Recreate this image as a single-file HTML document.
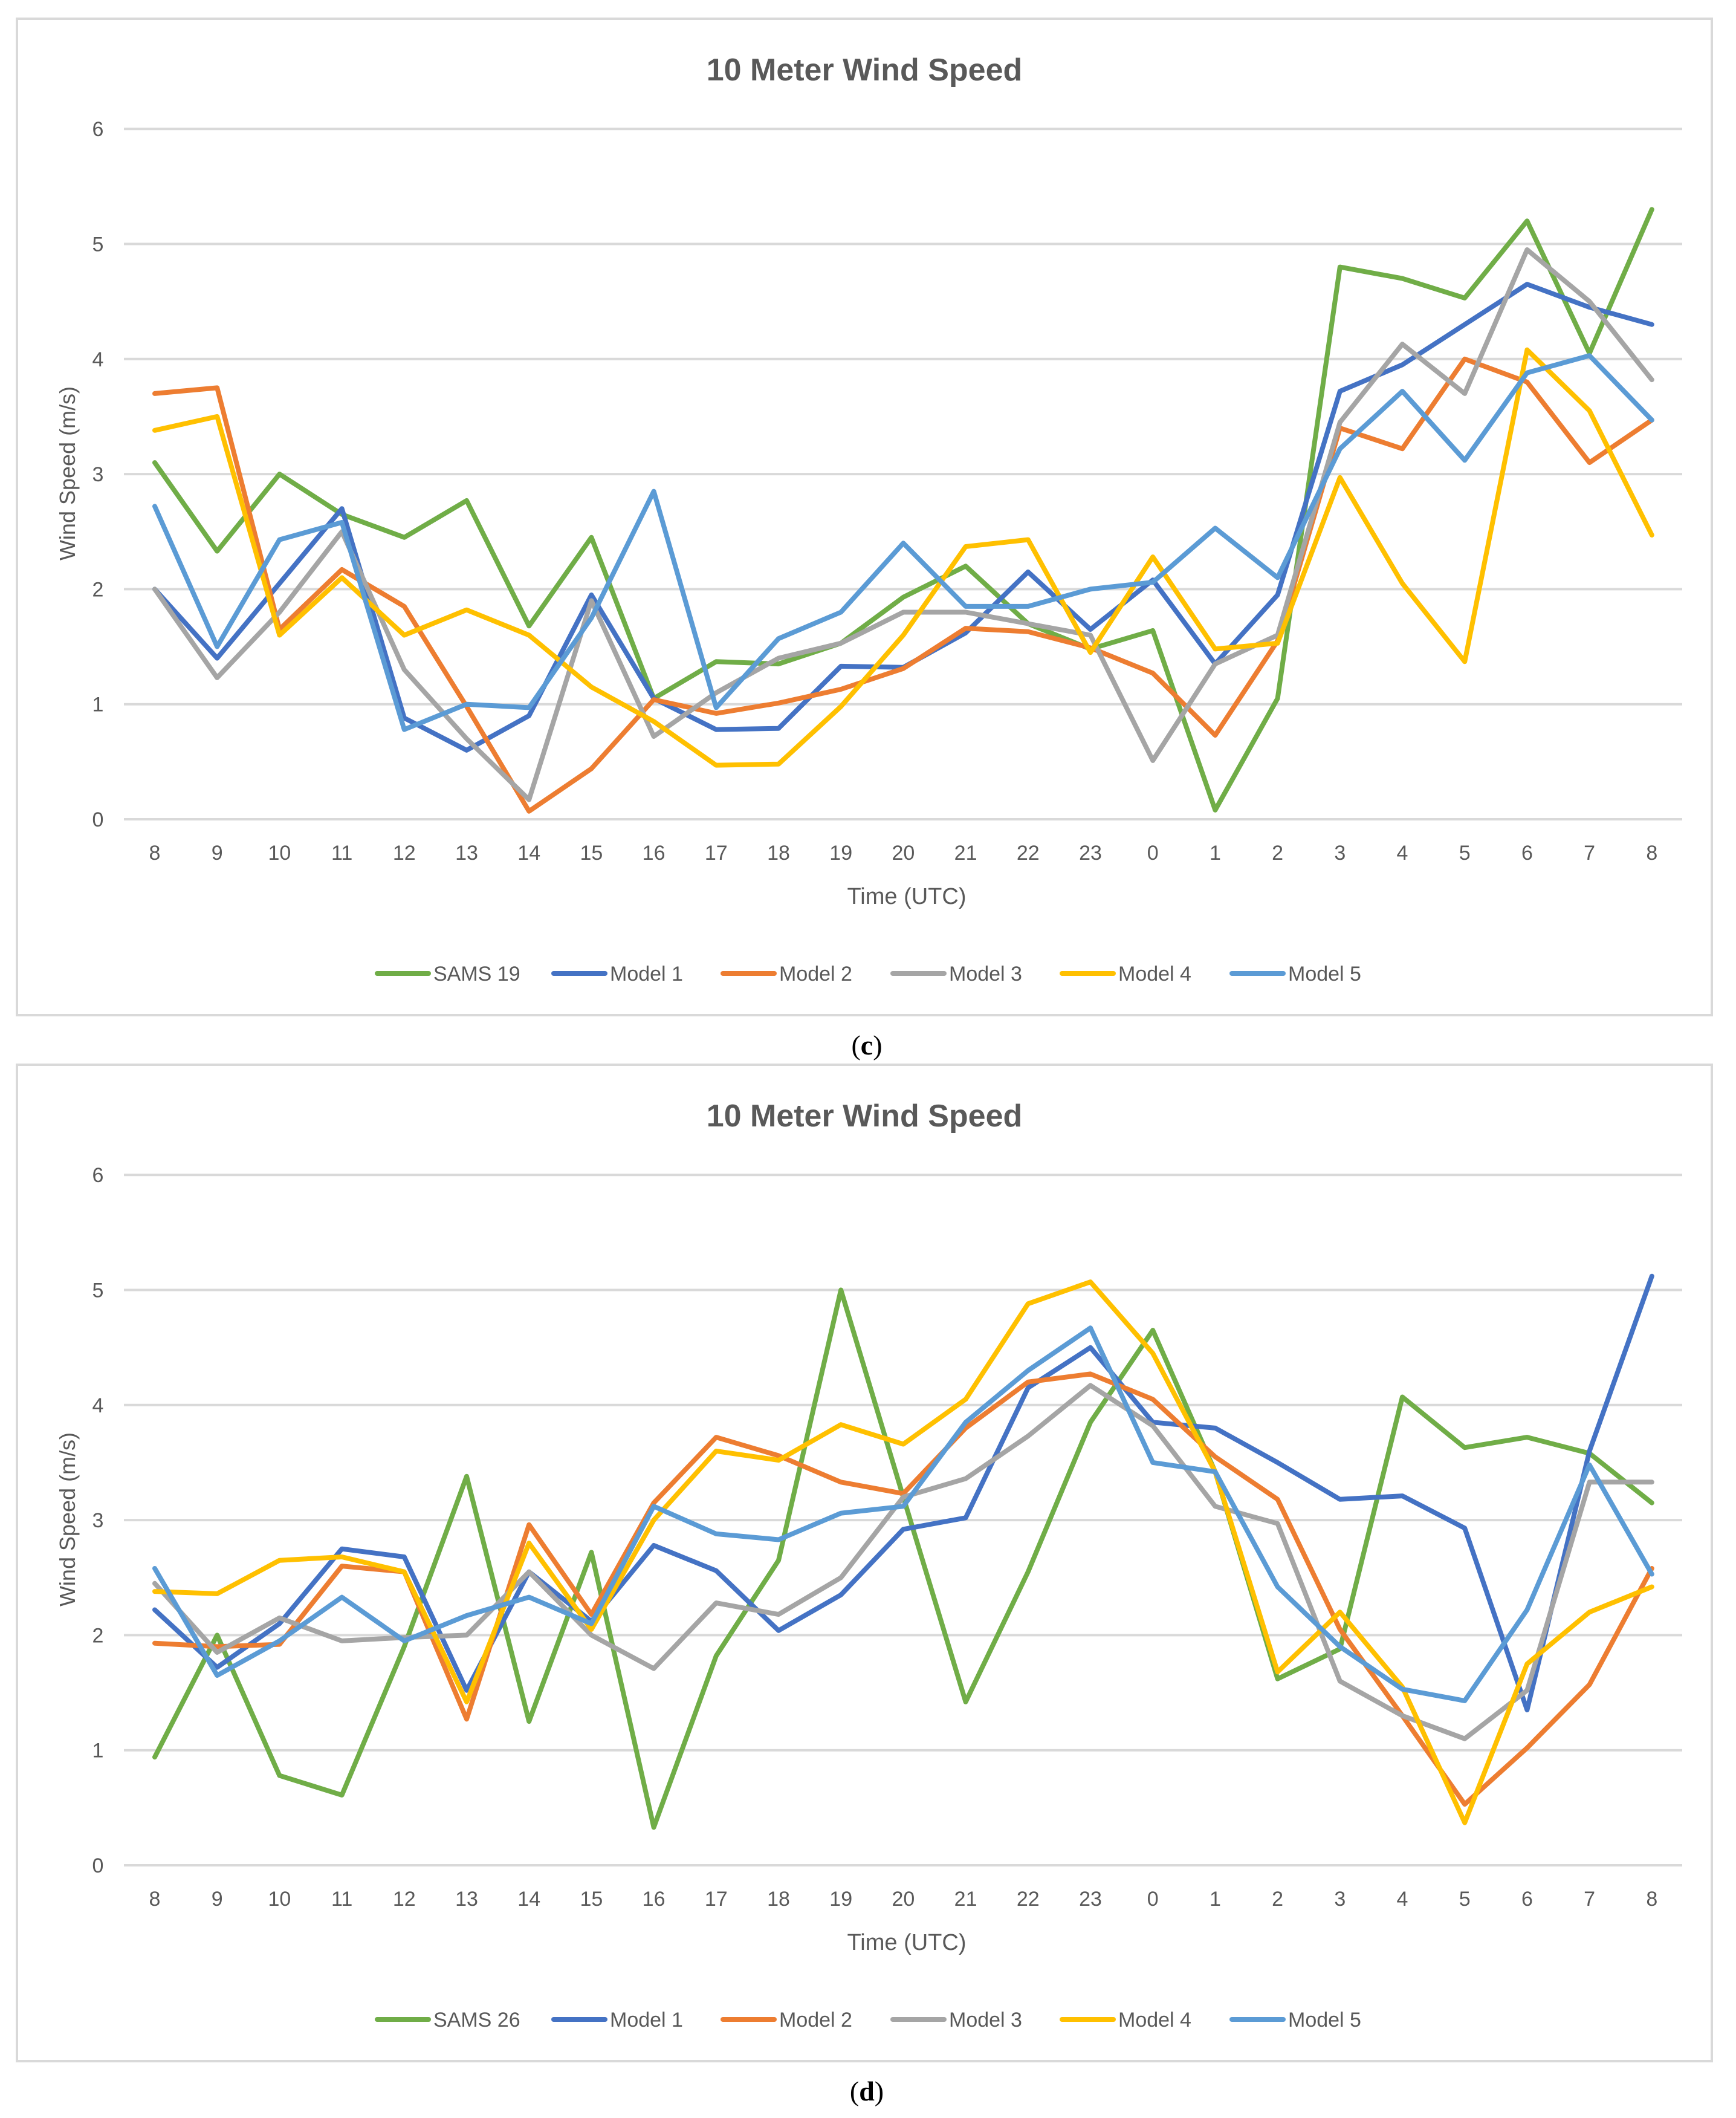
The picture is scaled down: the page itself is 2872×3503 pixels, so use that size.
<!DOCTYPE html>
<html><head><meta charset="utf-8"><style>
html,body{margin:0;padding:0;background:#fff;}
svg{display:block;}
</style></head><body>
<svg id="root" width="2872" height="3503" viewBox="0 0 2872 3503" xmlns="http://www.w3.org/2000/svg"></svg>
<script>
const categories = ["8","9","10","11","12","13","14","15","16","17","18","19","20","21","22","23","0","1","2","3","4","5","6","7","8"];
const yTicks = [0,1,2,3,4,5,6];
const seriesNames = ["Model 1","Model 2","Model 3","Model 4","Model 5"];
const seriesColors = ["#70AD47","#4472C4","#ED7D31","#A5A5A5","#FFC000","#5B9BD5"];
const cSams = [3.1,2.33,3.0,2.65,2.45,2.77,1.68,2.45,1.05,1.37,1.35,1.53,1.93,2.2,1.7,1.48,1.64,0.08,1.05,4.8,4.7,4.53,5.2,4.05,5.3];
const cModel1 = [2.0,1.4,2.05,2.7,0.88,0.6,0.9,1.95,1.05,0.78,0.79,1.33,1.32,1.62,2.15,1.65,2.08,1.35,1.95,3.72,3.95,4.3,4.65,4.45,4.3];
const cModel2 = [3.7,3.75,1.65,2.17,1.85,0.98,0.07,0.44,1.04,0.92,1.01,1.13,1.31,1.66,1.63,1.49,1.27,0.73,1.55,3.4,3.22,4.0,3.8,3.1,3.47];
const cModel3 = [2.0,1.23,1.8,2.5,1.3,0.7,0.17,1.9,0.72,1.1,1.4,1.53,1.8,1.8,1.7,1.6,0.51,1.35,1.6,3.45,4.13,3.7,4.95,4.5,3.82];
const cModel4 = [3.38,3.5,1.6,2.1,1.6,1.82,1.6,1.15,0.85,0.47,0.48,0.98,1.6,2.37,2.43,1.45,2.28,1.48,1.53,2.97,2.05,1.37,4.08,3.55,2.47];
const cModel5 = [2.72,1.5,2.43,2.58,0.78,1.0,0.97,1.75,2.85,0.97,1.57,1.8,2.4,1.85,1.85,2.0,2.06,2.53,2.1,3.22,3.72,3.12,3.88,4.03,3.47];
const dSams = [0.94,2.0,0.78,0.61,1.9,3.38,1.25,2.72,0.33,1.82,2.65,5.0,3.2,1.42,2.55,3.85,4.65,3.42,1.62,1.88,4.07,3.63,3.72,3.58,3.15];
const dModel1 = [2.22,1.72,2.1,2.75,2.68,1.52,2.55,2.12,2.78,2.56,2.04,2.35,2.92,3.02,4.15,4.5,3.85,3.8,3.5,3.18,3.21,2.93,1.35,3.6,5.12];
const dModel2 = [1.93,1.9,1.92,2.6,2.55,1.27,2.96,2.18,3.15,3.72,3.56,3.33,3.23,3.8,4.2,4.27,4.05,3.55,3.18,2.05,1.3,0.53,1.02,1.57,2.58];
const dModel3 = [2.45,1.85,2.15,1.95,1.98,2.0,2.55,2.0,1.71,2.28,2.18,2.5,3.2,3.36,3.73,4.17,3.82,3.12,2.97,1.6,1.3,1.1,1.52,3.33,3.33];
const dModel4 = [2.38,2.36,2.65,2.68,2.55,1.42,2.8,2.05,3.0,3.6,3.52,3.83,3.66,4.05,4.88,5.07,4.45,3.42,1.68,2.2,1.55,0.37,1.75,2.2,2.42];
const dModel5 = [2.58,1.65,1.95,2.33,1.95,2.17,2.33,2.1,3.12,2.88,2.83,3.06,3.12,3.85,4.3,4.67,3.5,3.42,2.42,1.9,1.53,1.43,2.22,3.48,2.53];

const NS = "http://www.w3.org/2000/svg";
const root = document.getElementById('root');
function mk(tag, attrs, parent){
  const e = document.createElementNS(NS, tag);
  for (const k in attrs) e.setAttribute(k, attrs[k]);
  parent.appendChild(e);
  return e;
}
const FONT = '"Liberation Sans", "DejaVu Sans", sans-serif';

function drawChart(off, letter, stationName, series){
  const g = mk('g', {}, root);
  
  
  const x0 = 256, dx = 103.2, yBase = 1355 + off, yUnit = 190.3;
  const xs = i => x0 + i * dx;
  const ys = v => yBase - v * yUnit;

  const frame = mk('rect', {x:28, y:31+off, width:2804, height:1648, fill:'#fff', stroke:'#d9d9d9', 'stroke-width':4}, g);
  
  

  const title = mk('text', {x:1430, y:133+off, 'text-anchor':'middle', 'font-family':FONT, 'font-size':52, 'font-weight':'bold', fill:'#595959'}, g);
  title.textContent = '10 Meter Wind Speed';
  
  

  yTicks.forEach(t => {
    const ln = mk('line', {x1:205, x2:2783, y1:ys(t), y2:ys(t), stroke:'#d9d9d9', 'stroke-width':4}, g);
    
    
    const tx = mk('text', {x:162, y:ys(t)+12, 'text-anchor':'middle', 'font-family':FONT, 'font-size':34, fill:'#595959'}, g);
    tx.textContent = t;
    
    
  });
  categories.forEach((c, i) => {
    const tx = mk('text', {x:xs(i), y:1422+off, 'text-anchor':'middle', 'font-family':FONT, 'font-size':34, fill:'#595959'}, g);
    tx.textContent = c;
    
    
  });
  const yt = mk('text', {x:0, y:0, transform:`translate(124 ${783+off}) rotate(-90)`, 'text-anchor':'middle', 'font-family':FONT, 'font-size':36, fill:'#595959'}, g);
  yt.textContent = 'Wind Speed (m/s)';
  
  
  const xt = mk('text', {x:1500, y:1495+off, 'text-anchor':'middle', 'font-family':FONT, 'font-size':38, fill:'#595959'}, g);
  xt.textContent = 'Time (UTC)';
  
  

  const names = [stationName].concat(seriesNames);
  series.forEach((vals, si) => {
    const pts = vals.map((v, i) => xs(i).toFixed(1) + ',' + ys(v).toFixed(1)).join(' ');
    const pl = mk('polyline', {points:pts, fill:'none', stroke:seriesColors[si], 'stroke-width':8, 'stroke-linejoin':'round', 'stroke-linecap':'round'}, g);
    
    
  });

  const legX = [624, 916, 1196, 1477, 1757, 2038];
  const ly = 1610 + off;
  names.forEach((n, i) => {
    const lg = mk('g', {}, g);
    
    
    mk('line', {x1:legX[i], x2:legX[i]+85, y1:ly, y2:ly, stroke:seriesColors[i], 'stroke-width':8, 'stroke-linecap':'round'}, lg);
    const t = mk('text', {x:legX[i]+93, y:ly+12, 'font-family':FONT, 'font-size':34, fill:'#595959'}, lg);
    t.textContent = n;
  });

  const cap = mk('text', {x:1434, y:1744+off, 'text-anchor':'middle', 'font-family':'"Liberation Serif", serif', 'font-size':46, fill:'#000'}, root);
  cap.innerHTML = '(<tspan font-weight="bold">' + letter + '</tspan>)';
  
  
}
drawChart(0, 'c', 'SAMS 19', [cSams, cModel1, cModel2, cModel3, cModel4, cModel5]);
drawChart(1730, 'd', 'SAMS 26', [dSams, dModel1, dModel2, dModel3, dModel4, dModel5]);
</script>
</body></html>
